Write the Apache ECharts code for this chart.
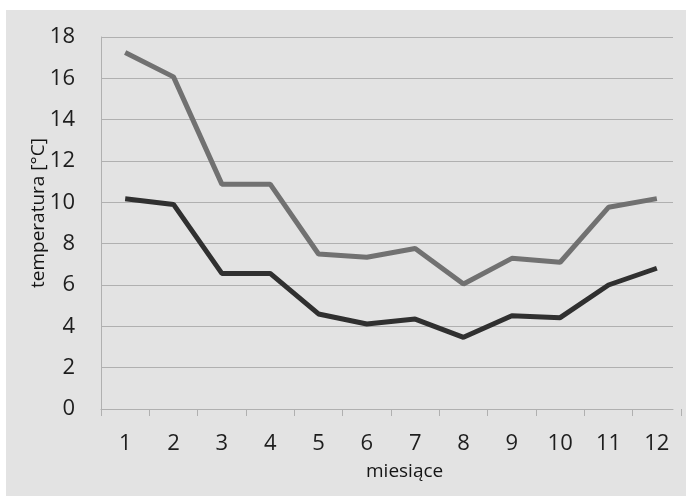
<!DOCTYPE html>
<html>
<head>
<meta charset="utf-8">
<script src="https://cdn.jsdelivr.net/npm/echarts@6/dist/echarts.min.js"></script>
<style>html,body{margin:0;padding:0;background:#fff}#c{width:686px;height:496px}</style>
</head>
<body>
<div id="c"></div>
<script>
var months = ['1','2','3','4','5','6','7','8','9','10','11','12'];
var seriesLight = [17.25, 16.07, 10.88, 10.88, 7.5, 7.34, 7.77, 6.05, 7.29, 7.1, 9.76, 10.18];
var seriesDark = [10.17, 9.9, 6.56, 6.56, 4.6, 4.11, 4.35, 3.47, 4.51, 4.42, 6.0, 6.81];
var yTicks = {min: 0, max: 18, interval: 2};
var xTitle = 'miesiące';
var yTitle = 'temperatura [°C]';

var font = '"Open Sans", "Noto Sans", sans-serif';
var chart = echarts.init(document.getElementById('c'), null, {renderer: 'canvas'});
chart.setOption({
  backgroundColor: '#ffffff',
  animation: false,
  graphic: [
    {type: 'rect', z: -10, silent: true, shape: {x: 6, y: 10, width: 680, height: 486}, style: {fill: '#e3e3e3'}},
    {type: 'text', left: 366, top: 462, style: {text: xTitle, font: '500 19px ' + font, fill: '#151515'}},
    {type: 'text', rotation: Math.PI / 2, x: 29, y: 288, style: {text: yTitle, font: '500 19px ' + font, fill: '#151515', align: 'left', verticalAlign: 'top'}}
  ],
  grid: [
    {left: 101, top: 37, right: 13, bottom: 87},
    {left: 101, top: 37, right: 5, bottom: 87}
  ],
  xAxis: [
    {type: 'category', gridIndex: 0, data: months, boundaryGap: true,
     axisLine: {show: true, lineStyle: {color: '#b0b0b0', width: 1}},
     axisTick: {show: false}, axisLabel: {show: false}, splitLine: {show: false}},
    {type: 'category', gridIndex: 1, data: months, boundaryGap: true,
     axisLine: {show: false},
     axisTick: {show: true, length: 7, lineStyle: {color: '#b0b0b0'}},
     axisLabel: {show: true, margin: 24, fontSize: 22, fontFamily: font, color: '#1e1e1e'},
     splitLine: {show: false}}
  ],
  yAxis: [
    {type: 'value', gridIndex: 0, min: yTicks.min, max: yTicks.max, interval: yTicks.interval,
     axisLine: {show: true, lineStyle: {color: '#b0b0b0', width: 1}},
     axisTick: {show: false},
     axisLabel: {margin: 26, fontSize: 22, fontFamily: font, color: '#1e1e1e'},
     splitLine: {show: true, lineStyle: {color: '#b0b0b0', width: 1}}},
    {type: 'value', gridIndex: 1, min: yTicks.min, max: yTicks.max, interval: yTicks.interval,
     show: false, splitLine: {show: false}}
  ],
  series: [
    {type: 'line', xAxisIndex: 1, yAxisIndex: 1, data: seriesLight, symbol: 'none',
     lineStyle: {color: '#717171', width: 5}, z: 3},
    {type: 'line', xAxisIndex: 1, yAxisIndex: 1, data: seriesDark, symbol: 'none',
     lineStyle: {color: '#303030', width: 5}, z: 4}
  ]
});
</script>
</body>
</html>
